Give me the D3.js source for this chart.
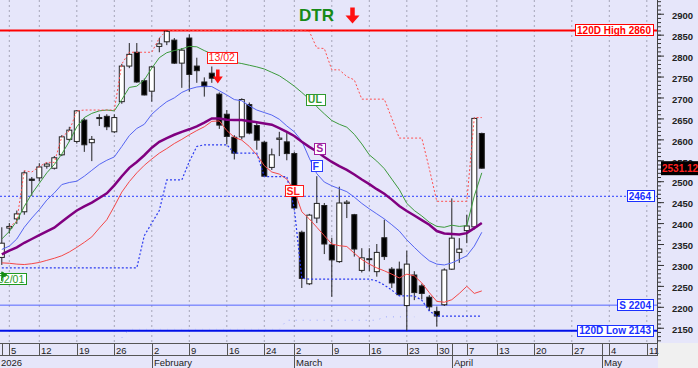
<!DOCTYPE html>
<html>
<head>
<meta charset="utf-8">
<script src="https://cdn.jsdelivr.net/npm/d3@7"></script>
<style>
  body { margin: 0; background: #fff; }
  svg text { font-family: Arial, "Liberation Sans", sans-serif; }
</style>
</head>
<body>
<script>

// trading days (past + projected) on the x axis
var dates = [
  "2026-01-02","2026-01-05","2026-01-06","2026-01-07","2026-01-08",
  "2026-01-12","2026-01-13","2026-01-14","2026-01-15","2026-01-16",
  "2026-01-19","2026-01-20","2026-01-21","2026-01-22","2026-01-23",
  "2026-01-26","2026-01-27","2026-01-28","2026-01-29","2026-01-30",
  "2026-02-02","2026-02-03","2026-02-04","2026-02-05","2026-02-06",
  "2026-02-09","2026-02-10","2026-02-11","2026-02-12","2026-02-13",
  "2026-02-16","2026-02-17","2026-02-18","2026-02-19","2026-02-20",
  "2026-02-24","2026-02-25","2026-02-26","2026-02-27",
  "2026-03-02","2026-03-03","2026-03-04","2026-03-05","2026-03-06",
  "2026-03-09","2026-03-10","2026-03-11","2026-03-12","2026-03-13",
  "2026-03-16","2026-03-17","2026-03-18","2026-03-19","2026-03-20",
  "2026-03-23","2026-03-24","2026-03-25","2026-03-26",
  "2026-03-30","2026-03-31","2026-04-01","2026-04-02",
  "2026-04-07","2026-04-08","2026-04-09","2026-04-10",
  "2026-04-13","2026-04-14","2026-04-15","2026-04-16","2026-04-17",
  "2026-04-20","2026-04-21","2026-04-22","2026-04-23","2026-04-24",
  "2026-04-27","2026-04-28","2026-04-29","2026-04-30","2026-05-01",
  "2026-05-04","2026-05-05","2026-05-06","2026-05-07","2026-05-08",
  "2026-05-11","2026-05-12"
];

var open = [
  2318,2388,2410,2427,2505, 2508,2536,2531,2563,2600, 2595,2646,2592,2650,2655,
  2618,2690,2775,2808,2740, 2715,2822,2833,2837,2782, 2842,2775,2737,2758,2708,
  2660,2605,2606,2683,2633, 2593,2533,2600,2594, 2566,2378,2255,2412,2442,
  2348,2308,2447,2420,2287, 2313,2284,2365,2290,2290, 2203,2276,2250,2223,
  2189,2205,2290,2330, 2382,2391,2614
];
var high = [
  2390,2400,2430,2525,2510, 2543,2545,2560,2610,2630, 2670,2650,2608,2660,2660,
  2660,2780,2830,2830,2745, 2775,2842,2860,2842,2818, 2851,2795,2748,2774,2712,
  2670,2610,2698,2688,2640, 2596,2578,2618,2615, 2570,2382,2422,2512,2448,
  2365,2487,2455,2422,2340, 2340,2350,2408,2295,2308, 2334,2285,2255,2228,
  2200,2292,2459,2364, 2420,2652,2616
];
var low = [
  2300,2375,2398,2420,2465, 2500,2530,2528,2560,2595, 2590,2570,2548,2632,2622,
  2615,2685,2770,2735,2705, 2690,2808,2825,2780,2723, 2714,2735,2702,2735,2625,
  2588,2552,2600,2612,2575, 2510,2527,2560,2550, 2432,2245,2252,2400,2326,
  2224,2305,2412,2320,2282, 2285,2272,2312,2245,2226, 2143,2216,2218,2190,
  2153,2202,2288,2305, 2352,2385,2530
];
var close = [
  2352,2392,2422,2520,2502, 2534,2541,2556,2606,2622, 2668,2587,2600,2652,2630,
  2652,2775,2803,2737,2706, 2773,2828,2858,2782,2813, 2755,2764,2726,2746,2634,
  2607,2567,2695,2615,2598, 2512,2563,2603,2566, 2436,2268,2419,2447,2350,
  2312,2448,2450,2338,2317, 2315,2330,2320,2257,2229, 2302,2234,2232,2200,
  2178,2288,2364,2338, 2393,2650,2531.12
];

// indicator lines
var lineUL = [
  2362,2380,2405,2440,2470, 2495,2520,2540,2565,2595, 2630,2652,2662,2668,2670,
  2668,2695,2724,2727,2742, 2770,2795,2807,2812,2816, 2822,2821,2812,2804,2797,
  2790,2784,2781,2777,2773, 2768,2760,2752,2740, 2727,2712,2696,2678,2661,
  2645,2636,2629,2612,2589, 2563,2548,2530,2505,2480, 2447,2430,2417,2402,
  2392,2390,2395,2392, 2394,2465,2520
];
var lineF = [
  2337,2345,2362,2390,2412, 2432,2455,2472,2492,2497, 2500,2512,2526,2540,2550,
  2558,2583,2609,2626,2636, 2660,2676,2690,2699,2712, 2720,2725,2727,2726,2716,
  2706,2695,2692,2680,2670, 2664,2658,2648,2632, 2618,2596,2555,2518,2498,
  2489,2482,2475,2462,2447, 2434,2422,2410,2396,2381, 2360,2342,2325,2310,
  2302,2300,2305,2313, 2322,2345,2378
];
var lineS = [
  2325,2334,2342,2353,2362, 2371,2380,2389,2403,2417, 2430,2440,2449,2460,2471,
  2490,2512,2532,2546,2562, 2580,2594,2603,2611,2618, 2624,2631,2640,2650,2650,
  2647,2646,2646,2643,2641, 2638,2635,2627,2618, 2608,2594,2582,2571,2558,
  2546,2536,2527,2516,2504, 2493,2481,2470,2456,2441, 2429,2418,2407,2396,
  2381,2375,2374,2373, 2376,2388,2400
];
var lineSL = [
  2305,2304,2302,2301,2303, 2306,2311,2316,2322,2331, 2342,2354,2367,2388,2408,
  2440,2474,2499,2520,2538, 2553,2567,2578,2590,2600, 2611,2621,2630,2643,2644,
  2621,2605,2598,2583,2563, 2537,2522,2517,2505, 2478,2427,2410,2390,2370,
  2350,2346,2344,2328,2313, 2302,2293,2286,2278,2269, 2278,2274,2257,2234,
  2213,2211,2217,2232, 2249,2232,2238
];
var stopHigh = [
  null,2390,2405,2525,2522, 2535,2545,2545,2606,2620, 2668,2670,2670,2670,2670,
  2670,2780,2808,2808,2808, 2808,2842,2860,2860,2860, 2860,2860,2860,2860,2860,
  2860,2860,2860,2860,2860, 2860,2860,2860,2860, 2860,2860,2858,2818,2817,
  2766,2766,2750,2742,2696, 2696,2696,2696,2650,2603, 2603,2603,2603,2530,
  2452,2452,2452,2452, 2452,2652,2652
];
var stopLow = [
  2293,2293,2293,2293,2293, 2293,2293,2293,2293,2293, 2293,2293,2293,2293,2293,
  2293,2293,2293,2293,2370, 2400,2430,2503,2503,2503, 2547,2583,2587,2587,2587,
  2587,2567,2567,2567,2567, 2511,2511,2511,2511, 2435,2268,2266,2266,2266,
  2266,2266,2266,2266,2266, 2266,2262,2252,2240,2226, 2226,2226,2216,2190,
  2178,2178,2178,2178, 2178,2178,2178
];
var lowBand = [
  null,null,null,null,null, null,null,null,null,null, null,null,null,null,null,
  null,2126,2146,2146,2146, 2146,2146,2146,2146,2146, 2146,2146,2146,2146,2146,
  2146,2146,2146,2146,2146, 2146,2146,2146,2168, 2168,2168,2168,2168,2168,
  2168,2168,2168,2168,2168, 2168,2168,2176,2176,2176, 2176,2176,null,null,
  null,null,null,null, null,null,null
];

// horizontal levels
var levelValues = [2860, 2464, 2204, 2143];
var levelLabels = ["120D High 2860", "2464", "S 2204", "120D Low 2143"];
var lastPrice = 2531.12;

// axis ticks
var yTicks = d3.range(2150, 2901, 50);
var yMinor = d3.range(2120, 2931, 10);
var weekTicks = ["2026-01-05","2026-01-12","2026-01-19","2026-01-26","2026-02-02",
  "2026-02-09","2026-02-16","2026-02-24","2026-03-02","2026-03-09","2026-03-16",
  "2026-03-23","2026-03-30","2026-04-07","2026-04-13","2026-04-20","2026-04-27",
  "2026-05-04","2026-05-11"];
var extraSeps = ["2026-01-02","2026-04-01","2026-05-01"];
var monthDates = ["2026-01-02","2026-02-02","2026-03-02","2026-04-01","2026-05-01"];
var monthLabels = ["2026","February","March","April","May"];

var W = 698, H = 368;
var plotR = 658, plotB = 343;

var x = d3.scalePoint()
  .domain(dates)
  .range([1.8, 1.8 + 7.5 * (dates.length - 1)]);
var y = d3.scaleLinear()
  .domain([2113.6, 2932.8])
  .range([plotB, 0]);

var svg = d3.select("body").append("svg")
  .attr("width", W).attr("height", H);

svg.append("rect").attr("width", W).attr("height", H).attr("fill", "#e6e6fa");
svg.append("rect").attr("x", plotR).attr("y", plotB)
  .attr("width", W - plotR).attr("height", H - plotB).attr("fill", "#f0f0f0");

svg.append("clipPath").attr("id", "clip")
  .append("rect").attr("width", plotR).attr("height", plotB);
var plot = svg.append("g").attr("clip-path", "url(#clip)");

// weekly dotted grid
plot.selectAll(".grid").data(weekTicks).enter().append("line")
  .attr("x1", function(d) { return x(d); })
  .attr("x2", function(d) { return x(d); })
  .attr("y1", 0).attr("y2", plotB)
  .attr("stroke", "#a6a6b8").attr("stroke-dasharray", "2,3");

// level lines
var levelStyle = [
  { c: "#ff0000", w: 2, dash: null },
  { c: "#2a3cff", w: 1, dash: "2,2" },
  { c: "#5566ff", w: 1, dash: null },
  { c: "#0010e8", w: 2, dash: null }
];
plot.selectAll(".lvl").data(levelValues).enter().append("line")
  .attr("x1", 0).attr("x2", plotR)
  .attr("y1", function(d) { return y(d); })
  .attr("y2", function(d) { return y(d); })
  .attr("stroke", function(d, i) { return levelStyle[i].c; })
  .attr("stroke-width", function(d, i) { return levelStyle[i].w; })
  .attr("stroke-dasharray", function(d, i) { return levelStyle[i].dash; });

// candles
var candles = open.map(function(o, i) {
  return { d: dates[i], o: o, h: high[i], l: low[i], c: close[i] };
});
var cg = plot.selectAll(".candle").data(candles).enter().append("g");
cg.append("line")
  .attr("x1", function(d) { return x(d.d); })
  .attr("x2", function(d) { return x(d.d); })
  .attr("y1", function(d) { return y(d.h); })
  .attr("y2", function(d) { return y(d.l); })
  .attr("stroke", "#222");
cg.append("rect")
  .attr("x", function(d) { return x(d.d) - 2.5; })
  .attr("width", 5)
  .attr("y", function(d) { return y(Math.max(d.o, d.c)); })
  .attr("height", function(d) { return Math.max(1, Math.abs(y(d.o) - y(d.c))); })
  .attr("fill", function(d) { return d.c >= d.o ? "#ffffff" : "#000000"; })
  .attr("stroke", "#222");

function series(vals) {
  return vals.map(function(v, i) { return [dates[i], v]; });
}
var line = d3.line()
  .defined(function(d) { return d[1] != null; })
  .x(function(d) { return x(d[0]); })
  .y(function(d) { return y(d[1]); });

function drawLine(vals, color, width, dash) {
  plot.append("path").datum(series(vals))
    .attr("d", line)
    .attr("fill", "none")
    .attr("stroke", color)
    .attr("stroke-width", width)
    .attr("stroke-dasharray", dash);
}

drawLine(lowBand, "#9aa6ff", 1, "1,6");
drawLine(lineSL, "#f44848", 1, null);
drawLine(lineF, "#5565f2", 1, null);
drawLine(lineUL, "#3c9a3c", 1, null);
drawLine(lineS, "#800080", 2.5, null);
drawLine(stopHigh, "#ff5050", 1, "2,2");
drawLine(stopLow, "#2c3cf0", 1.2, "2,2");

// labelled boxes
function tagBox(parent, txt, px, cy, color, anchor, size, weight) {
  var g = parent.append("g");
  var r = g.append("rect");
  var t = g.append("text")
    .attr("x", px).attr("y", cy).attr("dy", "0.36em")
    .attr("text-anchor", anchor)
    .attr("font-size", size).attr("font-weight", weight)
    .attr("fill", color).text(txt);
  var b = t.node().getBBox();
  r.attr("x", Math.round(b.x - 2) + 0.5).attr("y", Math.round(cy - 6) + 0.5)
    .attr("width", Math.round(b.width + 4)).attr("height", 11)
    .attr("fill", "#ffffff").attr("stroke", color);
  return g;
}

var levelText = ["#ff0000", "#1a30ff", "#1a30ff", "#1a30ff"];
levelValues.forEach(function(v, i) {
  tagBox(svg, levelLabels[i], 651, y(v), levelText[i], "end", 10, "bold");
});

tagBox(svg, "UL", x(dates[42]) - 2, y(2695), "#2f9a2f", "middle", 10.5, "bold");
tagBox(svg, "S", x(dates[42]) + 3, y(2578), "#a020a0", "middle", 10.5, "bold");
tagBox(svg, "F", x(dates[42]) - 1, y(2537), "#2a3cff", "middle", 10.5, "bold");
tagBox(svg, "SL", x(dates[39]) - 1, y(2476), "#ff1a1a", "middle", 10.5, "bold");
tagBox(svg, "13/02", x(dates[29]) + 2.4, y(2795), "#ff1a1a", "middle", 10.5, "normal");
tagBox(plot, "02/01", -2, y(2266), "#1f9a1f", "start", 10.5, "normal");

// start flag
var fx = x(dates[0]);
svg.append("path")
  .attr("d", "M" + fx + "," + y(2262) + "V" + (y(2262) - 9) + "l5,3l-5,3z")
  .attr("fill", "#138a13").attr("stroke", "#138a13").attr("stroke-width", 1);

// arrows
function downArrow(cx, top, shaftW, shaftH, headW, headH) {
  svg.append("path")
    .attr("d", "M" + (cx - shaftW / 2) + "," + top + "h" + shaftW + "v" + shaftH +
      "h" + (headW - shaftW) / 2 + "l" + (-headW / 2) + "," + headH +
      "l" + (-headW / 2) + "," + (-headH) + "h" + (headW - shaftW) / 2 + "z")
    .attr("fill", "#ff1010");
}
downArrow(x(dates[29]) - 1.5, y(2767), 3.5, 7, 10, 7);

svg.append("text")
  .attr("x", 299).attr("y", 20.5)
  .attr("font-size", 17).attr("font-weight", "bold")
  .attr("fill", "#178a17").text("DTR");
downArrow(352.5, 7.5, 4.5, 8, 14, 8);

// right axis
svg.append("rect").attr("x", plotR).attr("y", 0).attr("width", W - plotR)
  .attr("height", plotB).attr("fill", "#e6e6fa");
var yMinorAxis = svg.append("g").attr("transform", "translate(" + plotR + ",0)")
  .call(d3.axisRight(y).tickValues(yMinor).tickSize(3).tickFormat(""));
yMinorAxis.select(".domain").remove();
yMinorAxis.selectAll("line").attr("stroke", "#333");
var yAxis = svg.append("g").attr("transform", "translate(" + plotR + ",0)")
  .call(d3.axisRight(y).tickValues(yTicks).tickSize(6).tickPadding(8)
    .tickFormat(d3.format("d")));
yAxis.select(".domain").remove();
yAxis.selectAll("line").attr("stroke", "#333");
yAxis.selectAll("text")
  .attr("font-size", 9.5).attr("font-weight", "bold")
  .attr("fill", "#222").attr("dy", "0.5em")
  .style("font-family", "Arial, 'Liberation Sans', sans-serif");
svg.append("line").attr("x1", plotR - 0.5).attr("x2", plotR - 0.5)
  .attr("y1", 0).attr("y2", plotB).attr("stroke", "#444");

// last price tag
svg.append("rect").attr("x", 661).attr("y", y(lastPrice) - 7)
  .attr("width", 40).attr("height", 14).attr("fill", "#000");
svg.append("text").attr("x", 662).attr("y", y(lastPrice)).attr("dy", "0.36em")
  .attr("font-size", 10).attr("font-weight", "bold")
  .attr("fill", "#ff2020").text(d3.format(".2f")(lastPrice));

// date axis rows
var xa = svg.append("g");
xa.append("line").attr("x1", 0).attr("x2", plotR).attr("y1", 343.5).attr("y2", 343.5)
  .attr("stroke", "#555");
xa.append("line").attr("x1", 0).attr("x2", plotR).attr("y1", 355.5).attr("y2", 355.5)
  .attr("stroke", "#555");
xa.selectAll(".dsep").data(weekTicks.concat(extraSeps)).enter().append("line")
  .attr("x1", function(d) { return Math.round(x(d)) + 0.5; })
  .attr("x2", function(d) { return Math.round(x(d)) + 0.5; })
  .attr("y1", 343.5).attr("y2", 355.5)
  .attr("stroke", "#555");
xa.selectAll(".dlab").data(weekTicks).enter().append("text")
  .attr("x", function(d) { return Math.round(x(d)) + 2; })
  .attr("y", 353.5)
  .attr("font-size", 9.5).attr("fill", "#222")
  .text(function(d) { return +d.slice(8); });
xa.selectAll(".msep").data(monthDates.slice(1)).enter().append("line")
  .attr("x1", function(d) { return Math.round(x(d)) + 0.5; })
  .attr("x2", function(d) { return Math.round(x(d)) + 0.5; })
  .attr("y1", 355.5).attr("y2", H)
  .attr("stroke", "#555");
xa.selectAll(".mlab").data(monthDates).enter().append("text")
  .attr("x", function(d, i) { return i === 0 ? 1 : Math.round(x(d)) + 2; })
  .attr("y", 366)
  .attr("font-size", 9.5).attr("fill", "#222")
  .text(function(d, i) { return monthLabels[i]; });
xa.append("line").attr("x1", plotR - 0.5).attr("x2", plotR - 0.5)
  .attr("y1", 343).attr("y2", 356).attr("stroke", "#555");

</script>
</body>
</html>
